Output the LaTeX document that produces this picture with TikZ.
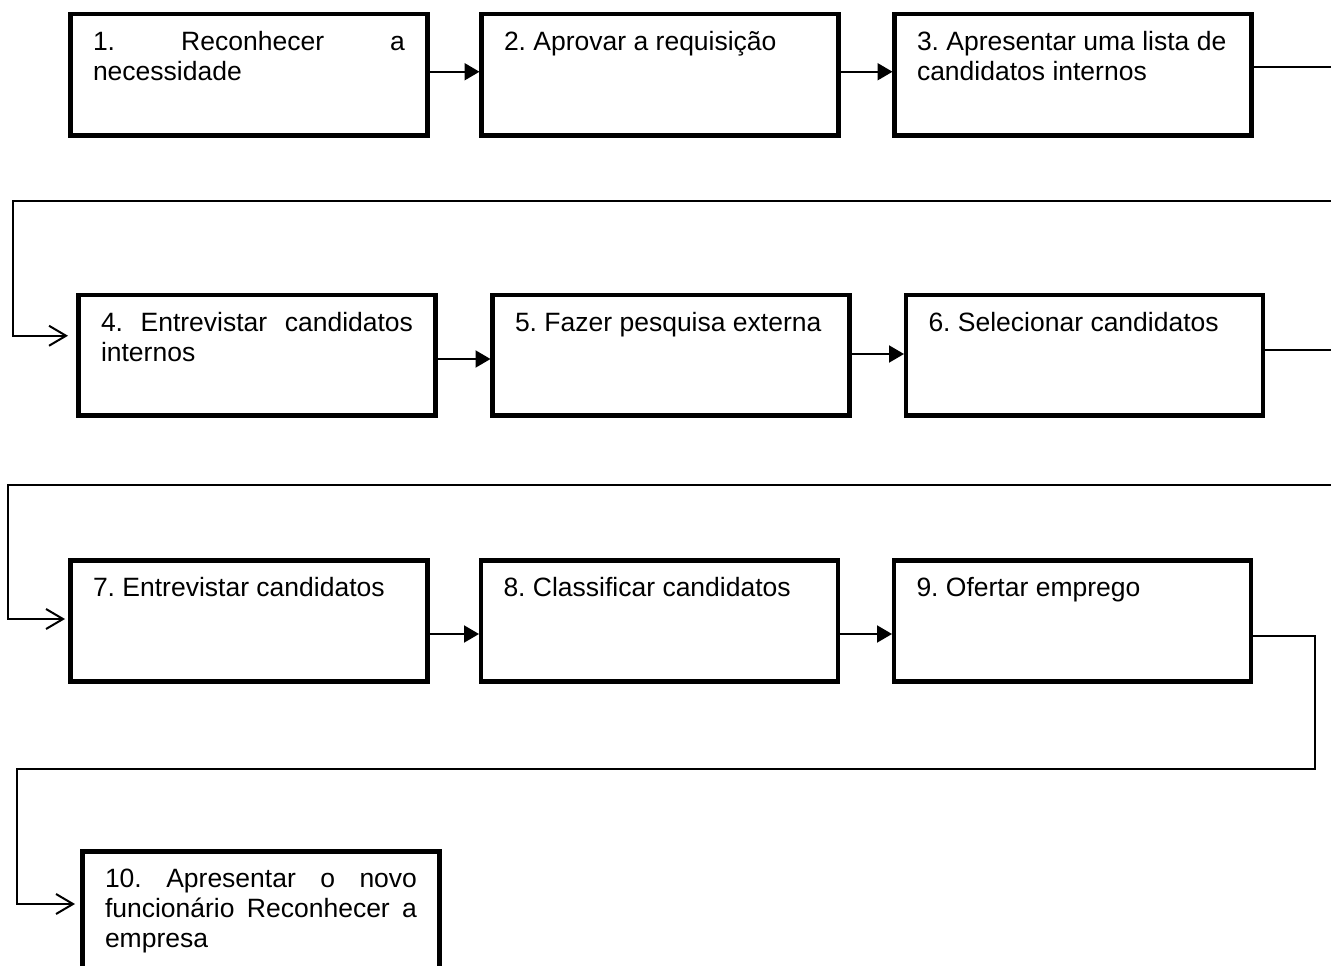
\documentclass[tikz,border=0pt]{standalone}
\usepackage{fontspec}
\setmainfont{Liberation Sans}
\usetikzlibrary{arrows.meta}
\newcommand{\bxt}[2]{\vbox to #1{\vskip15pt\hbox{\parbox[t]{312pt}{\frenchspacing\strut #2}}\vfill}}
\begin{document}
\frenchspacing
\begin{tikzpicture}[x=1pt,y=-1pt,
  stepbox/.style={draw, line width=4.5pt, rectangle, anchor=north west,
    inner xsep=22.5pt, inner ysep=0pt, outer sep=0pt,
    font=\fontsize{26.5}{30}\selectfont},
  conn/.style={line width=2pt},
  fwd/.style={conn, shorten >=2pt, -{Triangle[length=15pt,width=17pt]}},
  back/.style={conn, -{Straight Barb[length=17pt,width=20pt]}}]
\clip (0,0) rectangle (1331,966);
\fill[white] (0,0) rectangle (1331,966);

% row 1
\node[stepbox] (b1) at (70.5,14) {\bxt{121.5pt}{1.\hfill Reconhecer\hfill a\\necessidade}};
\node[stepbox] (b2) at (481.5,14) {\bxt{121.5pt}{2. Aprovar a requisição}};
\node[stepbox] (b3) at (894.5,14) {\bxt{121.5pt}{3. Apresentar uma lista de\\candidatos internos}};
% row 2
\node[stepbox] (b4) at (78.5,295) {\bxt{120.5pt}{4.\hfill Entrevistar\hfill candidatos\\internos}};
\node[stepbox] (b5) at (492.5,295) {\bxt{120.5pt}{5. Fazer pesquisa externa}};
\node[stepbox] (b6) at (906,295) {\bxt{120.5pt}{6. Selecionar candidatos}};
% row 3
\node[stepbox] (b7) at (70.5,560.5) {\bxt{121pt}{7. Entrevistar candidatos}};
\node[stepbox] (b8) at (481,560.5) {\bxt{121pt}{8. Classificar candidatos}};
\node[stepbox] (b9) at (894,560.5) {\bxt{121pt}{9. Ofertar emprego}};
% row 4
\node[stepbox] (b10) at (82.5,851.5) {\bxt{125pt}{10.\hfill Apresentar\hfill o\hfill novo\\funcionário\hfill Reconhecer\hfill a\\empresa}};

% forward arrows
\draw[fwd] ([yshift=3pt]b1.east) -- ([yshift=3pt]b2.west);
\draw[fwd] ([yshift=3pt]b2.east) -- ([yshift=3pt]b3.west);
\draw[fwd] ([yshift=-3.75pt]b4.east) -- ([yshift=-3.75pt]b5.west);
\draw[fwd] ([yshift=1.25pt]b5.east) -- ([yshift=1.25pt]b6.west);
\draw[fwd] ([yshift=-13pt]b7.east) -- ([yshift=-13pt]b8.west);
\draw[fwd] ([yshift=-13pt]b8.east) -- ([yshift=-13pt]b9.west);

% right edge
\coordinate (R) at (1331,0);

% loop 1
\coordinate (o3) at ([yshift=8pt]b3.east);
\draw[conn] (o3) -- (o3 -| R);
\coordinate (l1a) at (1331,201);
\coordinate (l1b) at (12.5,201);
\coordinate (t4) at ([yshift=19.5pt]b4.west);
\draw[back, shorten >=10.5pt] (l1a) -- (l1b) |- (t4);

% loop 2
\coordinate (o6) at ([yshift=5pt]b6.east);
\draw[conn] (o6) -- (o6 -| R);
\coordinate (l2a) at (1331,485);
\coordinate (l2b) at (8.3,485);
\coordinate (t7) at ([yshift=2pt]b7.west);
\draw[back, shorten >=5.5pt] (l2a) -- (l2b) |- (t7);

% loop 3
\coordinate (o9) at ([yshift=-15pt]b9.east);
\coordinate (c1) at (1315,769);
\coordinate (c2) at (17.3,769);
\coordinate (t10) at ([yshift=-52.5pt]b10.north west);
\draw[back, shorten >=7.5pt] (o9) -| (c1) -- (c2) |- (t10);
\end{tikzpicture}
\end{document}
